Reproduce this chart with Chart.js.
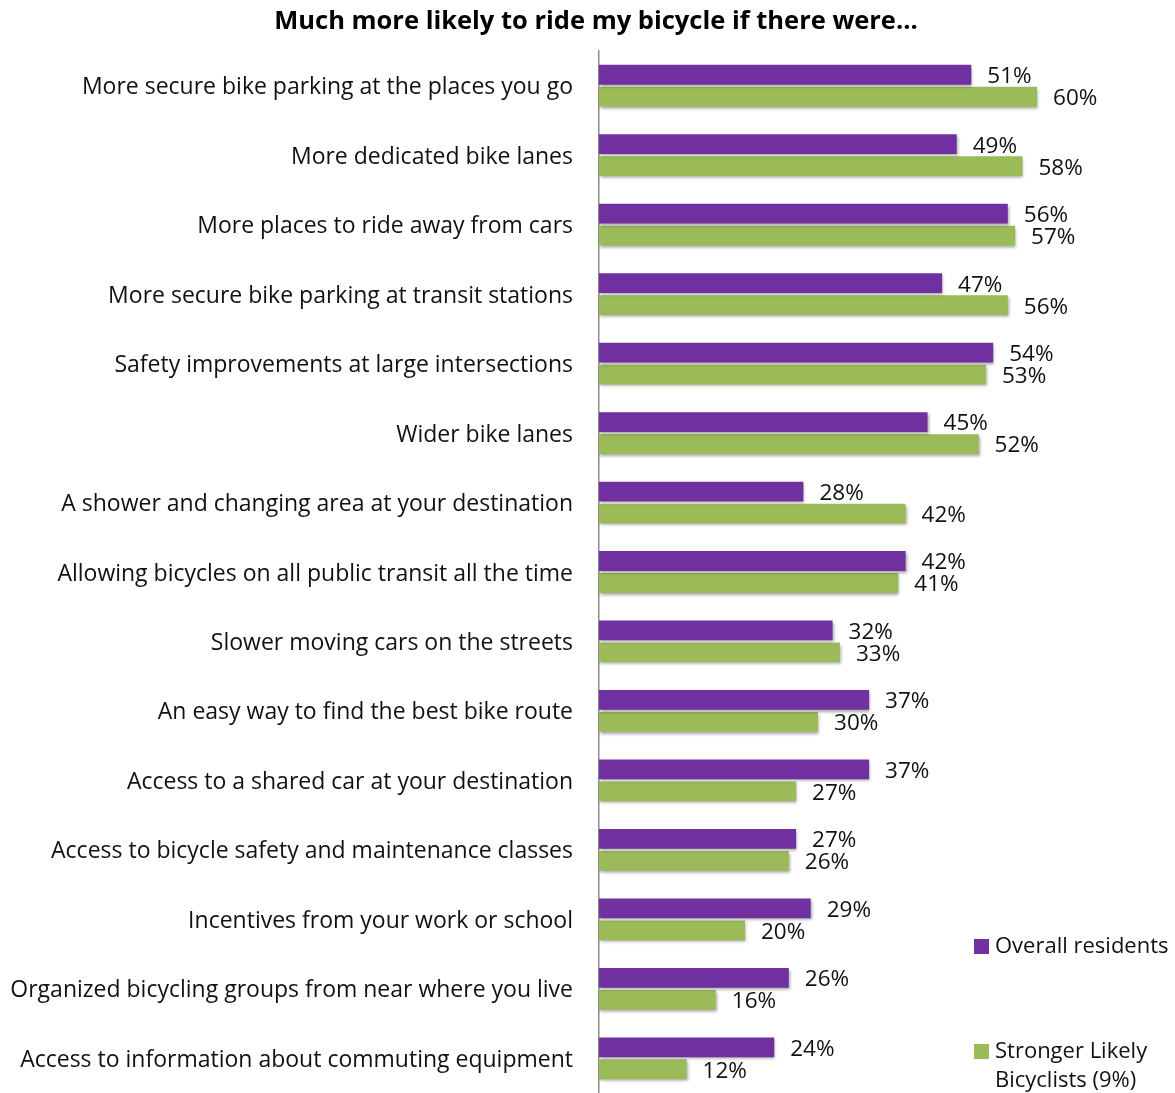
<!DOCTYPE html>
<html>
<head>
<meta charset="utf-8">
<script src="https://cdn.jsdelivr.net/npm/chart.js@4.4.1/dist/chart.umd.min.js"></script>
<style>
  html, body { margin: 0; padding: 0; background: #ffffff; }
  #wrap { width: 1175px; height: 1093px; position: relative; }
</style>
</head>
<body>
<div id="wrap"><canvas id="chart"></canvas></div>
<script>
// Survey answers: share who would be much more likely to ride
const categories = [
  "More secure bike parking at the places you go",
  "More dedicated bike lanes",
  "More places to ride away from cars",
  "More secure bike parking at transit stations",
  "Safety improvements at large intersections",
  "Wider bike lanes",
  "A shower and changing area at your destination",
  "Allowing bicycles on all public transit all the time",
  "Slower moving cars on the streets",
  "An easy way to find the best bike route",
  "Access to a shared car at your destination",
  "Access to bicycle safety and maintenance classes",
  "Incentives from your work or school",
  "Organized bicycling groups from near where you live",
  "Access to information about commuting equipment"
];
const overallResidents = [51, 49, 56, 47, 54, 45, 28, 42, 32, 37, 37, 27, 29, 26, 24];
const strongerLikely   = [60, 58, 57, 56, 53, 52, 42, 41, 33, 30, 27, 26, 20, 16, 12];
const seriesNames = ["Overall residents", ["Stronger Likely", "Bicyclists (9%)"]];
const titleText = "Much more likely to ride my bicycle if there were...";

const PURPLE = "#7030A0";
const GREEN = "#9BBB59";
const FONT = "'Open Sans', sans-serif";

// soft drop shadow under the bars
const barShadow = {
  id: "barShadow",
  beforeDatasetsDraw(chart) {
    const ctx = chart.ctx;
    ctx.save();
    ctx.shadowColor = "rgba(0,0,0,0.35)";
    ctx.shadowBlur = 3;
    ctx.shadowOffsetX = 1;
    ctx.shadowOffsetY = 2;
  },
  afterDatasetsDraw(chart) {
    chart.ctx.restore();
  }
};

// percentage text at the end of each bar
const valueLabels = {
  id: "valueLabels",
  afterDatasetsDraw(chart) {
    const ctx = chart.ctx;
    ctx.save();
    ctx.font = "22.5px " + FONT;
    ctx.fillStyle = "#111111";
    ctx.textAlign = "left";
    ctx.textBaseline = "middle";
    chart.data.datasets.forEach((ds, i) => {
      const meta = chart.getDatasetMeta(i);
      meta.data.forEach((bar, j) => {
        ctx.fillText(ds.data[j] + "%", bar.x + 16, bar.y + 2);
      });
    });
    ctx.restore();
  }
};

// legend in the lower right corner
const sideLegend = {
  id: "sideLegend",
  afterDraw(chart) {
    const ctx = chart.ctx;
    ctx.save();
    ctx.font = "22px " + FONT;
    ctx.textAlign = "left";
    ctx.textBaseline = "middle";
    const entries = [
      { y: 946, color: PURPLE, text: seriesNames[0] },
      { y: 1051, color: GREEN, text: seriesNames[1] }
    ];
    entries.forEach(e => {
      ctx.fillStyle = e.color;
      ctx.fillRect(974, e.y - 7, 15, 15);
      ctx.fillStyle = "#111111";
      const lines = Array.isArray(e.text) ? e.text : [e.text];
      lines.forEach((t, k) => ctx.fillText(t, 995, e.y + 1 + k * 29));
    });
    ctx.restore();
  }
};

new Chart(document.getElementById("chart"), {
  type: "bar",
  data: {
    labels: categories,
    datasets: [
      { label: "Overall residents", data: overallResidents, backgroundColor: PURPLE },
      { label: "Stronger Likely Bicyclists (9%)", data: strongerLikely, backgroundColor: GREEN }
    ]
  },
  options: {
    indexAxis: "y",
    responsive: true,
    maintainAspectRatio: false,
    animation: false,
    categoryPercentage: 0.633,
    barPercentage: 0.9,
    layout: { padding: { left: 0, right: -17, top: 0, bottom: 0 } },
    plugins: {
      legend: { display: false },
      tooltip: { enabled: false },
      title: {
        display: true,
        text: titleText,
        color: "#000000",
        font: { family: FONT, size: 25.5, weight: "bold", lineHeight: 1.2 },
        padding: { top: 6.7, bottom: 13.7 }
      }
    },
    scales: {
      x: {
        display: false,
        min: 0,
        max: 78.9
      },
      y: {
        afterFit(scale) {
          scale.width = 599;
          scale.paddingTop = 0;
          scale.paddingBottom = 0;
        },
        border: { display: true, color: "#8c8c8c", width: 1.5 },
        grid: { display: false, drawTicks: false, tickLength: 0 },
        ticks: {
          color: "#111111",
          padding: 26,
          labelOffset: 2,
          font: { family: FONT, size: 23 }
        }
      }
    }
  },
  plugins: [barShadow, valueLabels, sideLegend]
});
</script>
</body>
</html>
